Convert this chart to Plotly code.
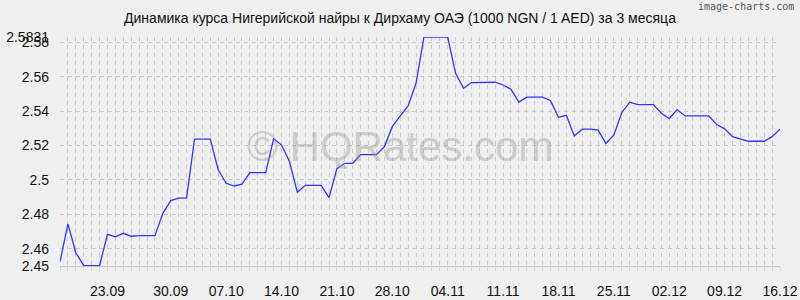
import plotly.graph_objects as go

# Daily index 0 = 16.09 ... 91 = 16.12
day_index = list(range(92))
rates = [
    2.4525, 2.4744, 2.4577, 2.4502, 2.4502, 2.4502, 2.4684, 2.4670, 2.4690, 2.4673,
    2.4676, 2.4676, 2.4676, 2.4806, 2.4880, 2.4894, 2.4894, 2.5238, 2.5238, 2.5238,
    2.5058, 2.4981, 2.4965, 2.4976, 2.5043, 2.5043, 2.5043, 2.5240, 2.5203, 2.5107,
    2.4928, 2.4969, 2.4969, 2.4969, 2.4897, 2.5066, 2.5097, 2.5097, 2.5147, 2.5147,
    2.5147, 2.5194, 2.5310, 2.5372, 2.5430, 2.5562, 2.5831, 2.5831, 2.5831, 2.5831,
    2.5620, 2.5533, 2.5566, 2.5566, 2.5566, 2.5568, 2.5552, 2.5527, 2.5453, 2.5481,
    2.5481, 2.5481, 2.5461, 2.5364, 2.5376, 2.5256, 2.5295, 2.5295, 2.5290, 2.5213,
    2.5262, 2.5391, 2.5452, 2.5438, 2.5438, 2.5438, 2.5388, 2.5357, 2.5409, 2.5372,
    2.5372, 2.5372, 2.5372, 2.5322, 2.5297, 2.5252, 2.5237, 2.5225, 2.5225, 2.5225,
    2.5252, 2.5295,
]

x_tick_pos = [6, 14, 21, 28, 35, 42, 49, 56, 63, 70, 77, 84, 91]
x_tick_text = ["23.09", "30.09", "07.10", "14.10", "21.10", "28.10", "04.11",
               "11.11", "18.11", "25.11", "02.12", "09.12", "16.12"]
y_tick_vals = [2.45, 2.46, 2.48, 2.50, 2.52, 2.54, 2.56, 2.58, 2.5831]
y_tick_text = ["2.45", "2.46", "2.48", "2.5", "2.52", "2.54", "2.56", "2.58", "2.5831"]

title = "Динамика курса Нигерийской найры к Дирхаму ОАЭ (1000 NGN / 1 AED) за 3 месяца"

BG = "#efefef"
GRID = "#c9c9c9"
FONT = "Liberation Sans, Arial, sans-serif"

fig = go.Figure()
fig.add_trace(go.Scatter(
    x=day_index, y=rates, mode="lines",
    line=dict(color="#3333ff", width=1.3),
    hoverinfo="skip", showlegend=False,
))

fig.update_layout(
    width=800, height=300,
    paper_bgcolor=BG, plot_bgcolor=BG,
    margin=dict(l=60, r=20, t=37, b=34, autoexpand=False),
    font=dict(family=FONT, size=14, color="#111111"),
    title=dict(text=title, x=0.5, xanchor="center", xref="container",
               y=1 - 18 / 300, yref="container", yanchor="middle",
               font=dict(size=14, color="#111111", family=FONT)),
    xaxis=dict(
        range=[0, 91], tickmode="array", tickvals=x_tick_pos, ticktext=x_tick_text,
        showgrid=True, gridcolor=GRID, griddash="4px,4px", gridwidth=1,
        zeroline=False, showline=True, linecolor="#c4c4c4", linewidth=1,
        ticks="", ticklabelstandoff=12, automargin=False,
        minor=dict(dtick=1, tick0=0, showgrid=True, gridcolor=GRID,
                   griddash="4px,4px", gridwidth=1,
                   ticks="outside", ticklen=4, tickcolor="#d6d6d6"),
        tickfont=dict(size=14, color="#111111"),
    ),
    yaxis=dict(
        range=[2.45, 2.5831], tickmode="array", tickvals=y_tick_vals, ticktext=y_tick_text,
        showgrid=True, gridcolor=GRID, griddash="4px,4px", gridwidth=1,
        zeroline=False, showline=False, ticks="", ticklabelstandoff=10, automargin=False,
        tickfont=dict(size=14, color="#111111"),
    ),
    annotations=[
        dict(text="© HQRates.com", x=(400 - 60) / 720, y=(266 - 146) / 229,
             xref="paper", yref="paper",
             showarrow=False, font=dict(size=42, color="rgba(150,150,150,0.4)", family=FONT),
             xanchor="center", yanchor="middle"),
        dict(text="image-charts.com", x=(796 - 60) / 720, y=(266 + 1) / 229,
             xref="paper", yref="paper",
             showarrow=False, font=dict(size=10, color="#555555", family="DejaVu Sans Mono"),
             xanchor="right", yanchor="top"),
    ],
)

fig.write_html("out.html")
